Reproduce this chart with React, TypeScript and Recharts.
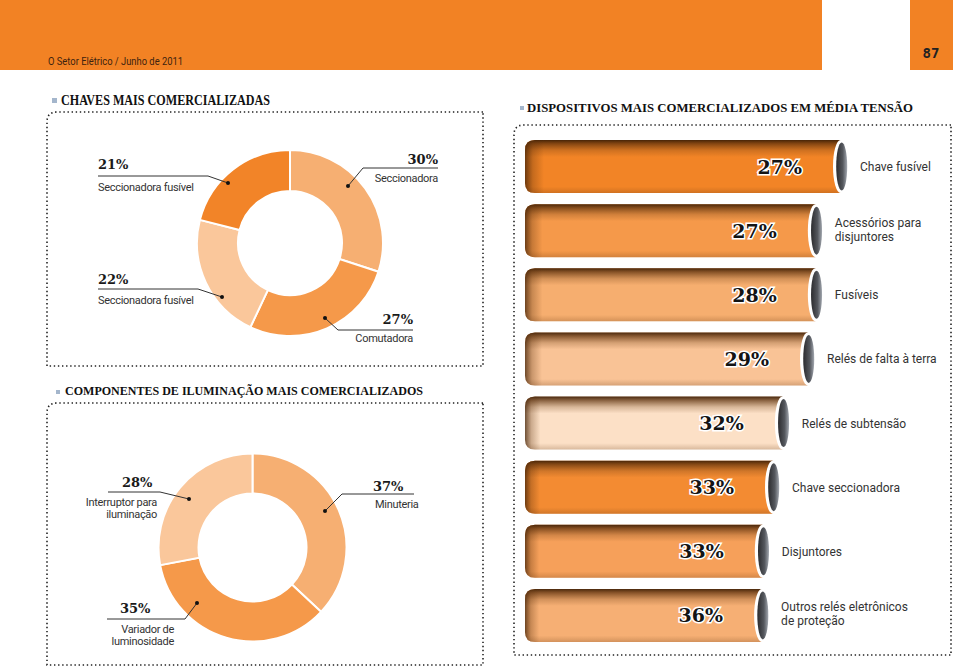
import React from 'react';
import { PieChart, Pie, Cell, BarChart, Bar, XAxis, YAxis } from 'recharts';

// --- data ---
const switchNames = ['Seccionadora', 'Comutadora', 'Seccionadora fusível', 'Seccionadora fusível'];
const switchShares = [30, 27, 22, 21];

const lightingNames = [['Minuteria'], ['Variador de', 'luminosidade'], ['Interruptor para', 'iluminação']];
const lightingShares = [37, 35, 28];

const deviceNames = [
    ['Chave fusível'],
    ['Acessórios para', 'disjuntores'],
    ['Fusíveis'],
    ['Relés de falta à terra'],
    ['Relés de subtensão'],
    ['Chave seccionadora'],
    ['Disjuntores'],
    ['Outros relés eletrônicos', 'de proteção'],
];
const deviceShares = [27, 27, 28, 29, 32, 33, 33, 36];
// the cylinders are not drawn to the share; this is their drawn length (% of track)
const deviceBarLength = [95, 87.6, 87.6, 85.3, 77.9, 75, 72, 71.8];

// --- styles ---
const ORANGE = '#F28224';
const switchColors = ['#F6AF72', '#F5994A', '#FAC79B', '#F28428'];
const lightingColors = ['#F6AF72', '#F5994A', '#FAC79B'];
const deviceColors = ['#F28426', '#F5994A', '#F6AE6F', '#F9C396', '#FCE0C6', '#F38B32', '#F6A05A', '#F6AF74'];

const SERIF_BOLD = '"DejaVu Serif", serif';
const SANS = 'Roboto, "Liberation Sans", sans-serif';
const TITLE = '"Liberation Serif", "Times New Roman", serif';

// label placement around each donut, offsets from the pie centre
type LabelSpot = {
    dot: [number, number];
    elbow: [number, number];
    end: number;
    pct: [number, number, 'start' | 'end'];
    name: [number, number, 'start' | 'end'];
};

const switchSpots: LabelSpot[] = [
    { dot: [58, -57], elbow: [73, -75], end: 148, pct: [148, -79, 'end'], name: [148, -61, 'end'] },
    { dot: [35, 75], elbow: [48, 87], end: 123, pct: [123, 81, 'end'], name: [123, 99, 'end'] },
    { dot: [-68, 54], elbow: [-92, 46], end: -192, pct: [-192, 41, 'start'], name: [-192, 61, 'start'] },
    { dot: [-62, -60], elbow: [-82, -67], end: -192, pct: [-192, -74, 'start'], name: [-192, -52, 'start'] },
];

const lightingSpots: LabelSpot[] = [
    { dot: [72.5, -36.5], elbow: [89.5, -53.5], end: 161.5, pct: [120.5, -56.5, 'start'], name: [122.5, -39.5, 'start'] },
    { dot: [-55.5, 55.5], elbow: [-67.5, 71.5], end: -145.5, pct: [-132.5, 65.5, 'start'], name: [-78.5, 85.5, 'end'] },
    { dot: [-63.5, -48.5], elbow: [-92.5, -55.5], end: -144.5, pct: [-130.5, -60.5, 'start'], name: [-95.5, -41.5, 'end'] },
];

const makeDonutLabel = (spots: LabelSpot[], shares: number[], names: string[][]) => (props: any) => {
    const { cx, cy, index } = props;
    const s = spots[index];
    const ex = cx + s.elbow[0];
    const ey = cy + s.elbow[1];
    return (
        <g key={`lbl-${index}`}>
            <polyline
                points={`${cx + s.dot[0]},${cy + s.dot[1]} ${ex},${ey} ${cx + s.end},${ey}`}
                fill="none"
                stroke="#333"
                strokeWidth={1}
            />
            <circle cx={cx + s.dot[0]} cy={cy + s.dot[1]} r={2} fill="#111" />
            <text x={cx + s.pct[0]} y={cy + s.pct[1]} textAnchor={s.pct[2]} fontFamily={SERIF_BOLD} fontWeight={700} fontSize={13} fill="#1a1a1a">
                {shares[index]}%
            </text>
            {names[index].map((line, i) => (
                <text key={i} x={cx + s.name[0]} y={cy + s.name[1] + i * 12} textAnchor={s.name[2]} fontFamily={SANS} fontSize={11} fill="#333" letterSpacing={-0.3}>
                    {line}
                </text>
            ))}
        </g>
    );
};

const Cylinder = (props: any) => {
    const { x, y, width, height, index } = props;
    const capRx = 7.5;
    const xe = x + width - capRx;
    const r = 10;
    const mid = y + height / 2;
    const body = `M${xe},${y} H${x + r} Q${x},${y} ${x},${y + r} V${y + height - r} Q${x},${y + height} ${x + r},${y + height} H${xe} Z`;
    const lines = deviceNames[index];
    return (
        <g>
            <path d={body} fill={deviceColors[index]} />
            <path d={body} fill="url(#shadeTop)" />
            <path d={body} fill="url(#shadeLeft)" />
            <ellipse cx={xe} cy={mid} rx={capRx} ry={height / 2} fill="#fff" />
            <ellipse cx={xe + 1.2} cy={mid} rx={capRx - 2} ry={height / 2 - 2.5} fill="url(#capGrad)" />
            <text
                x={x + width - 46}
                y={mid + 7}
                textAnchor="end"
                fontFamily={SERIF_BOLD}
                fontWeight={700}
                fontSize={19}
                fill="#141414"
                stroke="#fff"
                strokeWidth={3}
                paintOrder="stroke"
            >
                {deviceShares[index]}%
            </text>
            {lines.map((line: string, i: number) => (
                <text
                    key={i}
                    x={x + width + 12}
                    y={lines.length > 1 ? mid - 4 + i * 14 : mid + 4.5}
                    fontFamily={SANS}
                    fontSize={12}
                    fill="#333"
                >
                    {line}
                </text>
            ))}
        </g>
    );
};

const dots = { fill: 'none', stroke: '#222', strokeWidth: 1.6, strokeDasharray: '1.4 2.7' };

export default function App() {
    const switchData = switchShares.map((v, i) => ({ name: switchNames[i], value: v }));
    const lightingData = lightingShares.map((v, i) => ({ name: lightingNames[i].join(' '), value: v }));
    const deviceData = deviceBarLength.map((v, i) => ({ name: deviceNames[i].join(' '), length: v, share: deviceShares[i] }));

    return (
        <div style={{ position: 'absolute', left: 0, top: 0, width: 960, height: 667, background: '#fff', overflow: 'hidden' }}>
            <svg width={960} height={667} style={{ position: 'absolute', left: 0, top: 0 }}>
                <rect x={0} y={0} width={822} height={70} fill={ORANGE} />
                <rect x={910} y={0} width={43} height={70} fill={ORANGE} />
                <text x={48} y={65} fontFamily={SANS} fontSize={11} fill="#3d220f" textLength={135} lengthAdjust="spacingAndGlyphs">
                    O Setor Elétrico / Junho de 2011
                </text>
                <text x={931} y={58} textAnchor="middle" fontFamily='"DejaVu Sans Mono", monospace' fontWeight={600} fontSize={14} fill="#222">
                    87
                </text>

                <rect x={52} y={98} width={5} height={5} fill="#a4b6cc" />
                <text x={61} y={105} fontFamily={TITLE} fontWeight={700} fontSize={14} fill="#111" textLength={209} lengthAdjust="spacingAndGlyphs">
                    CHAVES MAIS COMERCIALIZADAS
                </text>
                <rect x={520} y={106} width={4} height={4} fill="#a4b6cc" />
                <text x={527} y={111.5} fontFamily={TITLE} fontWeight={700} fontSize={13} fill="#111" textLength={386} lengthAdjust="spacingAndGlyphs">
                    DISPOSITIVOS MAIS COMERCIALIZADOS EM MÉDIA TENSÃO
                </text>
                <rect x={56} y={390} width={4} height={4} fill="#a4b6cc" />
                <text x={65} y={395} fontFamily={TITLE} fontWeight={700} fontSize={13.5} fill="#111" textLength={358} lengthAdjust="spacingAndGlyphs">
                    COMPONENTES DE ILUMINAÇÃO MAIS COMERCIALIZADOS
                </text>

                <path d="M483,112 H57 Q47,112 47,122 V366 H483 Z" {...dots} />
                <path d="M483,403 H57 Q47,403 47,413 V665 H483 Z" {...dots} />
                <path d="M951,125 H524 Q514,125 514,135 V655 H951 Z" {...dots} />
            </svg>

            <div style={{ position: 'absolute', left: 40, top: 110 }}>
                <PieChart width={440} height={256}>
                    <Pie
                        data={switchData}
                        dataKey="value"
                        cx={245}
                        cy={128}
                        innerRadius={52}
                        outerRadius={93}
                        startAngle={90}
                        endAngle={-270}
                        stroke="#fff"
                        strokeWidth={2}
                        isAnimationActive={false}
                        labelLine={false}
                        label={makeDonutLabel(switchSpots, switchShares, switchNames.map(n => [n]))}
                    >
                        {switchData.map((_, i) => <Cell key={`sw-${i}`} fill={switchColors[i]} />)}
                    </Pie>
                </PieChart>
            </div>

            <div style={{ position: 'absolute', left: 40, top: 400 }}>
                <PieChart width={440} height={265}>
                    <Pie
                        data={lightingData}
                        dataKey="value"
                        cx={207.5}
                        cy={142.5}
                        innerRadius={54}
                        outerRadius={94}
                        startAngle={90}
                        endAngle={-270}
                        stroke="#fff"
                        strokeWidth={2}
                        isAnimationActive={false}
                        labelLine={false}
                        label={makeDonutLabel(lightingSpots, lightingShares, lightingNames)}
                    >
                        {lightingData.map((_, i) => <Cell key={`li-${i}`} fill={lightingColors[i]} />)}
                    </Pie>
                </PieChart>
            </div>

            <div style={{ position: 'absolute', left: 525, top: 134 }}>
                <BarChart
                    width={430}
                    height={513}
                    data={deviceData}
                    layout="vertical"
                    margin={{ top: 0, right: 90, left: 0, bottom: 0 }}
                    barSize={53}
                >
                    <defs>
                        <linearGradient id="shadeTop" x1="0" y1="0" x2="0" y2="1">
                            <stop offset="0" stopColor="#3e1f05" stopOpacity={0.95} />
                            <stop offset="0.07" stopColor="#5a2e0a" stopOpacity={0.72} />
                            <stop offset="0.2" stopColor="#6a3a10" stopOpacity={0.25} />
                            <stop offset="0.32" stopColor="#6a3a10" stopOpacity={0} />
                            <stop offset="0.88" stopColor="#6a3a10" stopOpacity={0} />
                            <stop offset="1" stopColor="#5a2e0a" stopOpacity={0.22} />
                        </linearGradient>
                        <linearGradient id="shadeLeft" x1="0" y1="0" x2="1" y2="0">
                            <stop offset="0" stopColor="#3e1f05" stopOpacity={0.75} />
                            <stop offset="0.025" stopColor="#5a2e0a" stopOpacity={0.3} />
                            <stop offset="0.06" stopColor="#5a2e0a" stopOpacity={0} />
                        </linearGradient>
                        <linearGradient id="capGrad" x1="0" y1="0" x2="1" y2="0">
                            <stop offset="0" stopColor="#2b2b2e" />
                            <stop offset="0.6" stopColor="#55585e" />
                            <stop offset="1" stopColor="#a3a8b0" />
                        </linearGradient>
                    </defs>
                    <XAxis type="number" domain={[0, 100]} hide />
                    <YAxis type="category" dataKey="name" hide />
                    <Bar dataKey="length" shape={<Cylinder />} isAnimationActive={false} />
                </BarChart>
            </div>
        </div>
    );
}
